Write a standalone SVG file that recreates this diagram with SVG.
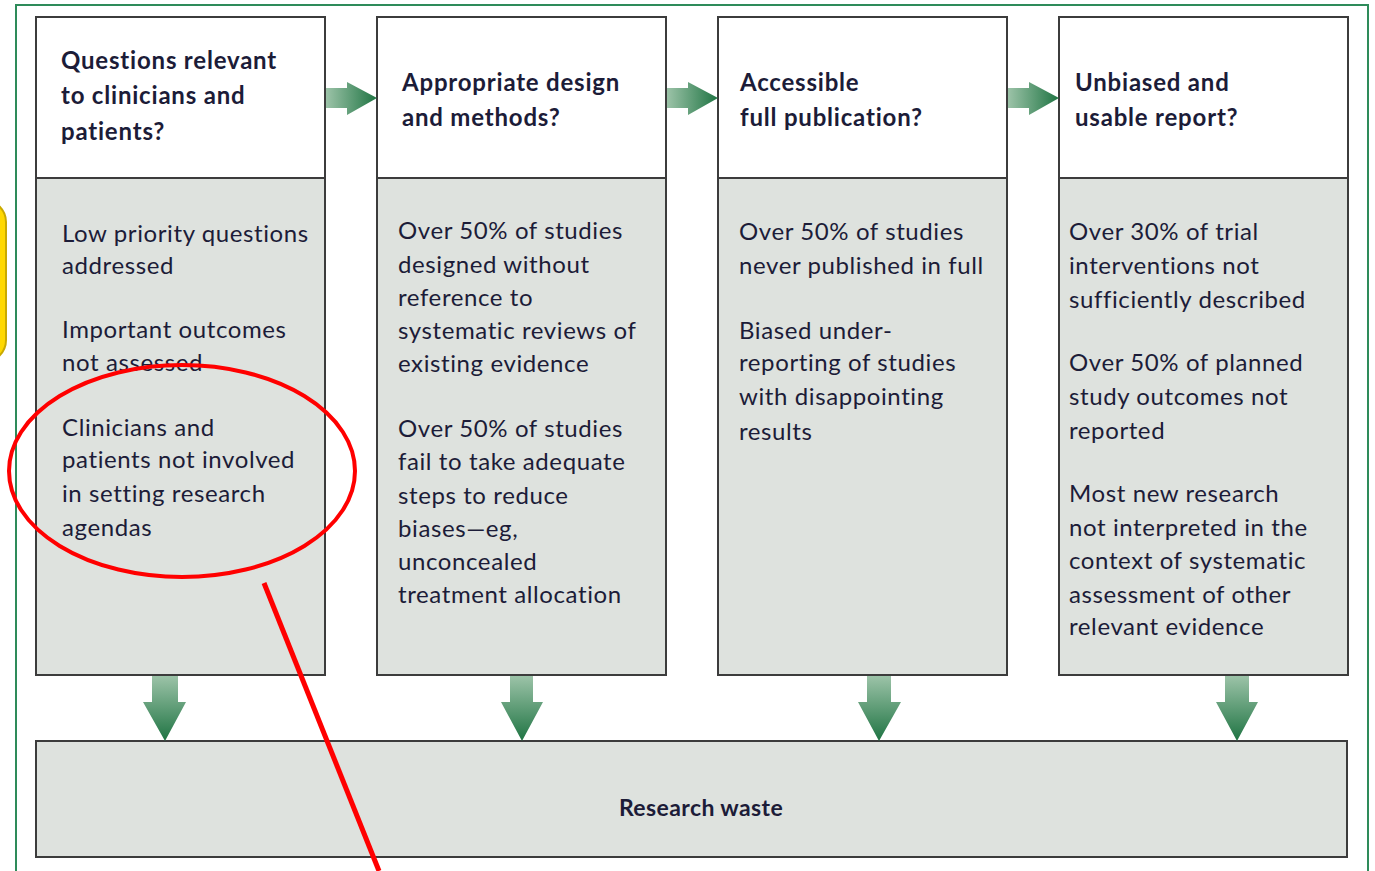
<svg xmlns="http://www.w3.org/2000/svg" width="1375" height="871" viewBox="0 0 1375 871">
<defs>
<linearGradient id="gh" x1="0" y1="0" x2="1" y2="0"><stop offset="0" stop-color="#9cc3a8"/><stop offset="1" stop-color="#1f7443"/></linearGradient>
<linearGradient id="gv" x1="0" y1="0" x2="0" y2="1"><stop offset="0" stop-color="#9cc3a8"/><stop offset="1" stop-color="#1f7443"/></linearGradient>
<style>
.hd{fill:#fff;stroke:#3c3c3c;stroke-width:2}
.bd{fill:#dee2de;stroke:#3c3c3c;stroke-width:2}
.ht{font-family:Lato,"Open Sans",sans-serif;font-size:24px;font-weight:bold;letter-spacing:0.8px;fill:#1c1c38}
.bt{font-family:Lato,"Open Sans",sans-serif;font-size:24px;letter-spacing:0.6px;fill:#1c1c38}
.ah{fill:url(#gh)}
.av{fill:url(#gv)}
</style>
</defs>
<rect x="0" y="0" width="1375" height="871" fill="#fff"/>
<rect x="-60" y="200" width="66" height="162" rx="22" fill="#ffd800" stroke="#c9a900" stroke-width="2"/>
<path d="M16 871 V5 H1368 V871" fill="none" stroke="#2e8b5a" stroke-width="2"/>

<g id="col1">
<rect class="hd" x="36" y="17" width="289" height="161"/>
<rect class="bd" x="36" y="178" width="289" height="497"/>
<text class="ht" x="61" y="69">Questions relevant</text>
<text class="ht" x="61" y="104">to clinicians and</text>
<text class="ht" x="61" y="140">patients?</text>
<text class="bt" x="62" y="242">Low priority questions</text>
<text class="bt" x="62" y="274">addressed</text>
<text class="bt" x="62" y="338">Important outcomes</text>
<text class="bt" x="62" y="371">not assessed</text>
<text class="bt" x="62" y="436">Clinicians and</text>
<text class="bt" x="62" y="468">patients not involved</text>
<text class="bt" x="62" y="502">in setting research</text>
<text class="bt" x="62" y="536">agendas</text>
</g>

<g id="col2">
<rect class="hd" x="377" y="17" width="289" height="161"/>
<rect class="bd" x="377" y="178" width="289" height="497"/>
<text class="ht" x="402" y="91">Appropriate design</text>
<text class="ht" x="402" y="126">and methods?</text>
<text class="bt" x="398" y="239">Over 50% of studies</text>
<text class="bt" x="398" y="273">designed without</text>
<text class="bt" x="398" y="306">reference to</text>
<text class="bt" x="398" y="339">systematic reviews of</text>
<text class="bt" x="398" y="372">existing evidence</text>
<text class="bt" x="398" y="437">Over 50% of studies</text>
<text class="bt" x="398" y="470">fail to take adequate</text>
<text class="bt" x="398" y="504">steps to reduce</text>
<text class="bt" x="398" y="537">biases—eg,</text>
<text class="bt" x="398" y="570">unconcealed</text>
<text class="bt" x="398" y="603">treatment allocation</text>
</g>

<g id="col3">
<rect class="hd" x="718" y="17" width="289" height="161"/>
<rect class="bd" x="718" y="178" width="289" height="497"/>
<text class="ht" x="740" y="91">Accessible</text>
<text class="ht" x="740" y="126">full publication?</text>
<text class="bt" x="739" y="240">Over 50% of studies</text>
<text class="bt" x="739" y="274">never published in full</text>
<text class="bt" x="739" y="339">Biased under-</text>
<text class="bt" x="739" y="371">reporting of studies</text>
<text class="bt" x="739" y="405">with disappointing</text>
<text class="bt" x="739" y="440">results</text>
</g>

<g id="col4">
<rect class="hd" x="1059" y="17" width="289" height="161"/>
<rect class="bd" x="1059" y="178" width="289" height="497"/>
<text class="ht" x="1075" y="91">Unbiased and</text>
<text class="ht" x="1075" y="126">usable report?</text>
<text class="bt" x="1069" y="240">Over 30% of trial</text>
<text class="bt" x="1069" y="274">interventions not</text>
<text class="bt" x="1069" y="308">sufficiently described</text>
<text class="bt" x="1069" y="371">Over 50% of planned</text>
<text class="bt" x="1069" y="405">study outcomes not</text>
<text class="bt" x="1069" y="439">reported</text>
<text class="bt" x="1069" y="502">Most new research</text>
<text class="bt" x="1069" y="536">not interpreted in the</text>
<text class="bt" x="1069" y="569">context of systematic</text>
<text class="bt" x="1069" y="603">assessment of other</text>
<text class="bt" x="1069" y="635">relevant evidence</text>
</g>

<g id="waste">
<rect class="bd" x="36" y="741" width="1311" height="116"/>
<text class="ht" x="701" y="816" text-anchor="middle" style="font-size:23px;letter-spacing:0.4px">Research waste</text>
</g>

<g id="connectors">
<path class="ah" d="M326 88 H347 V82 L377 98 L347 115 V108 H326 Z"/>
<path class="ah" d="M667 88 H688 V82 L718 98 L688 115 V108 H667 Z"/>
<path class="ah" d="M1008 88 H1029 V82 L1059 98 L1029 115 V108 H1008 Z"/>
<path class="av" d="M152 676 H178 V702 H186 L165 741 L143 702 H152 Z"/>
<path class="av" d="M510 676 H533 V702 H543 L522 741 L501 702 H510 Z"/>
<path class="av" d="M867 676 H891 V702 H901 L879 741 L858 702 H867 Z"/>
<path class="av" d="M1225 676 H1249 V702 H1258 L1237 741 L1216 702 H1225 Z"/>
</g>

<g id="annotation">
<ellipse cx="182" cy="471" rx="173" ry="106" fill="none" stroke="#ff0000" stroke-width="4"/>
<line x1="264" y1="583" x2="379" y2="871" stroke="#ff0000" stroke-width="5"/>
</g>
</svg>
